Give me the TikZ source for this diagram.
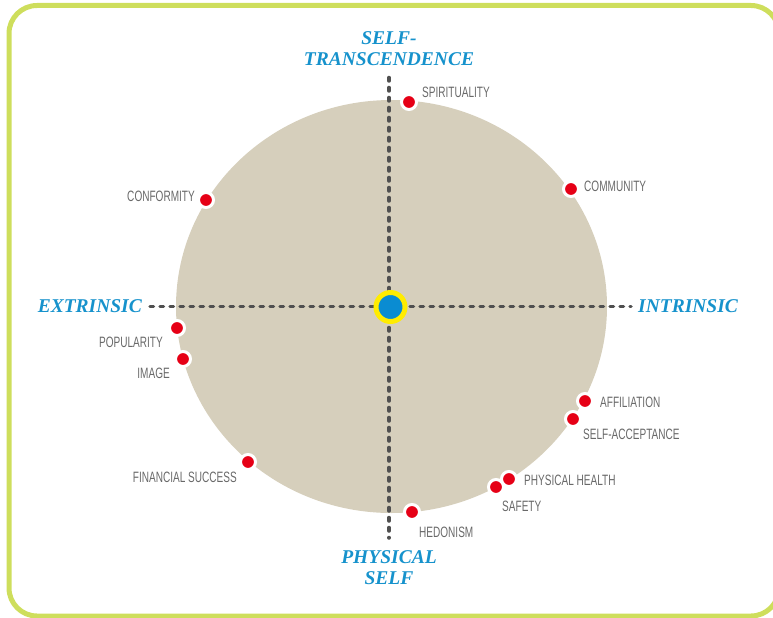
\documentclass[tikz,border=0pt]{standalone}
\usepackage{fontspec}
\setmainfont{Liberation Sans}
\newfontfamily\valuefont[FakeStretch=0.67]{Liberation Sans}
\newfontfamily\axisfont{Liberation Serif}
\usetikzlibrary{positioning}

\definecolor{framegreen}{RGB}{206,222,92}
\definecolor{sand}{RGB}{214,207,188}
\definecolor{axisblue}{RGB}{22,146,204}
\definecolor{dotred}{RGB}{230,0,22}
\definecolor{hubblue}{RGB}{10,140,210}
\definecolor{hubyellow}{RGB}{255,236,0}
\definecolor{textgray}{RGB}{105,105,105}
\definecolor{dashgray}{RGB}{80,80,80}

\tikzset{
  valuedot/.style={circle, draw=white, line width=3bp, fill=dotred, minimum size=15bp, inner sep=0pt},
  valuelabel/.style={inner sep=0pt, text=textgray, font=\valuefont\fontsize{15bp}{16bp}\selectfont},
  axislabel/.style={inner sep=0pt, align=center, text=axisblue, font=\axisfont\bfseries\itshape\fontsize{19.5bp}{21bp}\selectfont},
  axisline/.style={draw=dashgray, line width=3.5bp, line cap=round, dash pattern=on 3.5bp off 6.5bp},
}

\begin{document}
\begin{tikzpicture}[x=1bp, y=-1bp]
        \clip (0,0) rectangle (773,618);

        % Frame and disc
        \draw[framegreen, line width=5bp, rounded corners=28bp] (9,5.5) rectangle (779,616);
        \fill[sand] (391.5,306.5) ellipse [x radius=215.5bp, y radius=206.5bp];

        % Axis labels
        \node (transc) [axislabel, anchor=south] at (389,65.5) {SELF-\\TRANSCENDENCE};
        \node (physical) [axislabel, anchor=north] at (389,550) {PHYSICAL\\SELF};
        \node (extrinsic) [axislabel, anchor=east] at (142,306.5) {EXTRINSIC};
        \node (intrinsic) [axislabel, anchor=west] at (638,306.5) {INTRINSIC};

        % Axes
        \draw[axisline, shorten <=8bp, shorten >=7bp] (extrinsic) -- (intrinsic);
        \draw[axisline, shorten <=12bp, shorten >=12bp] (transc) -- (physical);

        % Hub
        \node (hub) [circle, draw=hubyellow, fill=hubblue, line width=5bp, minimum size=29bp, inner sep=0pt] at (390.5,307) {};

        % Values
        \node (spirituality) [valuedot] at (409,102) {};
        \node (conformity) [valuedot] at (206,200) {};
        \node (community) [valuedot] at (571,189) {};
        \node (popularity) [valuedot] at (177,328) {};
        \node (image) [valuedot] at (183,359) {};
        \node (affiliation) [valuedot] at (585,401) {};
        \node (selfacceptance) [valuedot] at (573,419) {};
        \node (health) [valuedot] at (509,479) {};
        \node (safety) [valuedot] at (496,487) {};
        \node (financial) [valuedot] at (248,462) {};
        \node (hedonism) [valuedot] at (412,512) {};

        % Value labels
        \node (spiritualitytext) [valuelabel, anchor=west] at (422,92) {SPIRITUALITY};
        \node (conformitytext) [valuelabel, anchor=east] at (195,196) {CONFORMITY};
        \node (communitytext) [valuelabel, anchor=west] at (584,186) {COMMUNITY};
        \node (popularitytext) [valuelabel, anchor=east] at (163,342.5) {POPULARITY};
        \node (imagetext) [valuelabel, anchor=east] at (170,373.5) {IMAGE};
        \node (affiliationtext) [valuelabel, anchor=west] at (600,402.5) {AFFILIATION};
        \node (selfacceptancetext) [valuelabel, anchor=west] at (583,434) {SELF-ACCEPTANCE};
        \node (healthtext) [valuelabel, anchor=west] at (524,480) {PHYSICAL HEALTH};
        \node (safetytext) [valuelabel, anchor=west] at (502,506) {SAFETY};
        \node (financialtext) [valuelabel, anchor=east] at (237,477.5) {FINANCIAL SUCCESS};
        \node (hedonismtext) [valuelabel, anchor=west] at (419,532) {HEDONISM};

    \end{tikzpicture}
\end{document}
